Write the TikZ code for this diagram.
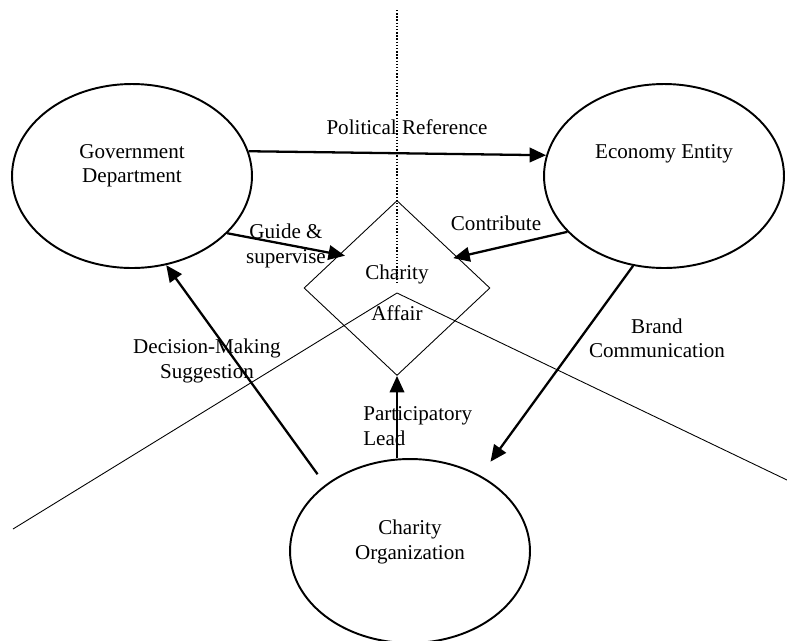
\documentclass[tikz,border=0pt]{standalone}
\usepackage{fontspec}
\setmainfont{Liberation Serif}
\usetikzlibrary{shapes.geometric,arrows.meta}

\begin{document}
\begin{tikzpicture}[x=0.02cm,y=-0.02cm,
    font=\fontsize{12}{13.9}\selectfont,
    party/.style={draw,ellipse,line width=1.1pt,minimum width=4.8cm,minimum height=3.68cm,inner sep=0pt},
    flow/.style={-{Triangle[length=0.33cm,width=0.29cm]},line width=1.3pt},
    txt/.style={align=center,inner sep=0pt}]

  \useasboundingbox (0,0) rectangle (787,640);

  % dividing lines
  \coordinate (top) at (397,10);
  \coordinate (dotend) at (397,285);
  \coordinate (apex) at (397,293);
  \coordinate (westend) at (13,529);
  \coordinate (eastend) at (787,480);
  \draw[densely dotted,line width=0.8pt] (top) -- (dotend);
  \draw[line width=0.5pt] (westend) -- (apex) -- (eastend);

  % the three parties
  \node[party] (gov) at (132,176) {};
  \node[party] (econ) at (664,176) {};
  \node[party] (org) at (410,551) {};
  \node[txt] (govtext) at (132,166) {Government\\Department};
  \node[txt] (econtext) at (664,154) {Economy Entity};
  \node[txt] (orgtext) at (410,542) {Charity\\Organization};

  % charity affair
  \node[draw,diamond,line width=0.5pt,minimum width=3.72cm,minimum height=3.5cm,inner sep=0pt] (aff) at (397,288) {};
  \node[txt,font=\fontsize{12}{23.2}\selectfont] (afftext) at (397,293) {Charity\\Affair};

  % relations
  \draw[flow] (gov.12) -- (econ.170);
  \draw[flow,shorten >=-0.12cm] (gov.-31) -- (aff.150);
  \draw[flow,shorten >=-0.09cm] (econ.210) -- (aff.27);
  \draw[flow,shorten >=0.34cm] (econ.-109) -- (org.47);
  \draw[flow] (org.north -| aff.south) -- (aff.south);
  \draw[flow,shorten <=0.26cm] (org.142) -- (gov.-69);

  \node[txt] (polref) at (407,127) {Political Reference};
  \node[txt] (guide) at (286,246) {Guide \&\\supervise};
  \node[txt] (contrib) at (496,223) {Contribute};
  \node[txt] (brand) at (657,338) {Brand\\Communication};
  \node[txt,align=left,anchor=west] (partic) at (363,426) {Participatory\\Lead};
  \node[txt] (decision) at (207,361) {Decision-Making\\Suggestion};
\end{tikzpicture}
\end{document}
